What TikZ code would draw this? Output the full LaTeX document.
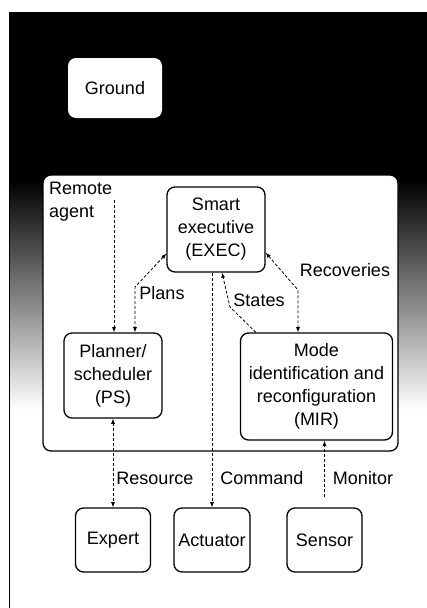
\documentclass[tikz,border=0pt]{standalone}
\usepackage{fontspec}
\setmainfont{Liberation Sans}

\begin{document}
\begin{tikzpicture}[x=1pt,y=-1pt, >=latex,
  every node/.style={font=\fontsize{18}{23}\selectfont},
  box/.style={draw, line width=1.3pt, rounded corners=8pt, fill=white, align=center, inner sep=0pt},
  flow/.style={densely dashed, line width=0.8pt}]
\useasboundingbox (0,0) rectangle (427,608);
% dark backdrop fading to paper
\fill[black] (10,12) rectangle (427,180);
\shade[top color=black, middle color=black!60, bottom color=white] (10,180) rectangle (427,410);
\draw[thin] (9,12) -- (9,608);
%
\node[box, draw=none, minimum width=94pt, minimum height=60pt] (ground) at (115,88) {Ground};
\node[box, minimum width=355pt, minimum height=276pt] (agent) at (220.5,313) {};
\node[anchor=north west, align=left, inner sep=0pt] (agentlbl) at (49,182) {Remote\\agent};
%
\node[box, minimum width=98pt, minimum height=85pt] (exec) at (216,229.5) {Smart\\executive\\(EXEC)};
\node[box, minimum width=98pt, minimum height=85pt] (planner) at (113,375.5) {Planner/\\scheduler\\(PS)};
\node[box, minimum width=152pt, minimum height=107pt] (mir) at (316.5,386.5) {Mode\\identification and\\reconfiguration\\(MIR)};
%
\node[box, minimum width=75pt, minimum height=64pt] (expert) at (113,540) {Expert};
\node[box, minimum width=76pt, minimum height=64pt] (actuator) at (212,540) {Actuator};
\node[box, minimum width=75pt, minimum height=64pt] (sensor) at (324.5,540) {Sensor};
%
\coordinate (ratap) at (114,200);
\draw[flow,->] (ratap) -- (ratap |- planner.north);
%
\coordinate (plansbend) at (135,287);
\draw[flow,<->] ([yshift=19pt]exec.south west) -- (plansbend) -- (plansbend |- planner.north);
\node (plans) at (162,293) {Plans};
%
\coordinate (statesbend) at (230,307);
\draw[flow,->] ([xshift=16pt]mir.north west) -- (statesbend) -- ([xshift=6pt]exec.south);
\node (states) at (259,300) {States};
%
\coordinate (recbend) at (298,290);
\draw[flow,<->] ([yshift=20pt]exec.south east) -- (recbend) -- (recbend |- mir.north);
\node (recov) at (345,270) {Recoveries};
%
\draw[flow,->] (actuator.north |- exec.south) -- (actuator.north);
\draw[flow,<->] (planner.south) -- (expert.north);
\draw[flow,->,shorten <=10pt] (sensor.north) -- (sensor.north |- mir.south);
%
\node (resource) at (155,478) {Resource};
\node (command) at (262,478) {Command};
\node (monitor) at (363,478) {Monitor};
\end{tikzpicture}
\end{document}
